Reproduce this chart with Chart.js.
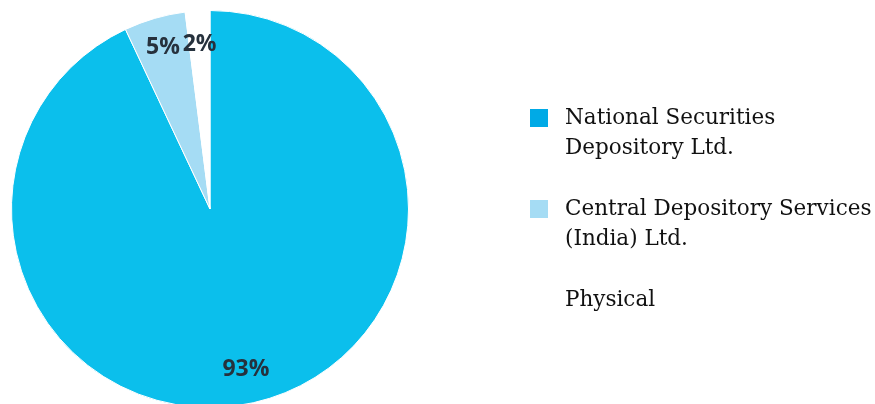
<!DOCTYPE html>
<html>
<head>
<meta charset="utf-8">
<script src="https://cdn.jsdelivr.net/npm/chart.js@4/dist/chart.umd.min.js"></script>
<style>
  html, body { margin: 0; padding: 0; background: #fff; overflow: hidden; }
  #wrap { position: absolute; left: 0; top: 0; width: 875px; height: 420px; }
</style>
</head>
<body>
<div id="wrap"><canvas id="holdingPie" width="875" height="420"></canvas></div>
<script>
// shareholding by mode of holding (%)
const categories = [
  ["National Securities", "Depository Ltd."],
  ["Central Depository Services", "(India) Ltd."],
  ["Physical"]
];
const shares = [93, 5, 2];
const sliceColors = ["#0bbfec", "#a5dcf4", "#ffffff"];
const markerColors = ["#00aae6", "#a5dcf4", "#ffffff"];

// percent labels on top of each slice
const sliceLabels = {
  id: "sliceLabels",
  afterDatasetsDraw(chart) {
    const { ctx } = chart;
    const meta = chart.getDatasetMeta(0);
    ctx.save();
    ctx.font = "bold 23px 'Open Sans', sans-serif";
    ctx.fillStyle = "#26313d";
    ctx.textAlign = "center";
    ctx.textBaseline = "middle";
    meta.data.forEach((arc, i) => {
      const mid = (arc.startAngle + arc.endAngle) / 2;
      const r = arc.outerRadius * (i === 1 ? 0.85 : 0.83);
      ctx.fillText(shares[i] + "%", arc.x + Math.cos(mid) * r, arc.y + Math.sin(mid) * r);
    });
    ctx.restore();
  }
};

// legend on the right, labels wrap on two lines
const sideLegend = {
  id: "sideLegend",
  afterDraw(chart) {
    const { ctx } = chart;
    ctx.save();
    ctx.font = "21.5px 'DejaVu Serif', serif";
    ctx.textBaseline = "middle";
    let y = 118;
    categories.forEach((lines, i) => {
      ctx.fillStyle = markerColors[i];
      ctx.fillRect(530, y - 9, 18, 18);
      ctx.fillStyle = "#111111";
      lines.forEach((t, k) => ctx.fillText(t, 565, y + k * 30));
      y += 91;
    });
    ctx.restore();
  }
};

new Chart(document.getElementById("holdingPie").getContext("2d"), {
  type: "pie",
  data: {
    labels: categories.map(l => l.join(" ")),
    datasets: [{
      data: shares,
      backgroundColor: sliceColors,
      borderColor: "#ffffff",
      borderWidth: 1
    }]
  },
  options: {
    responsive: false,
    animation: false,
    layout: { padding: { left: 11, top: 10, right: 466, bottom: 12 } },
    plugins: {
      legend: { display: false },
      tooltip: { enabled: false }
    }
  },
  plugins: [sliceLabels, sideLegend]
});
</script>
</body>
</html>
